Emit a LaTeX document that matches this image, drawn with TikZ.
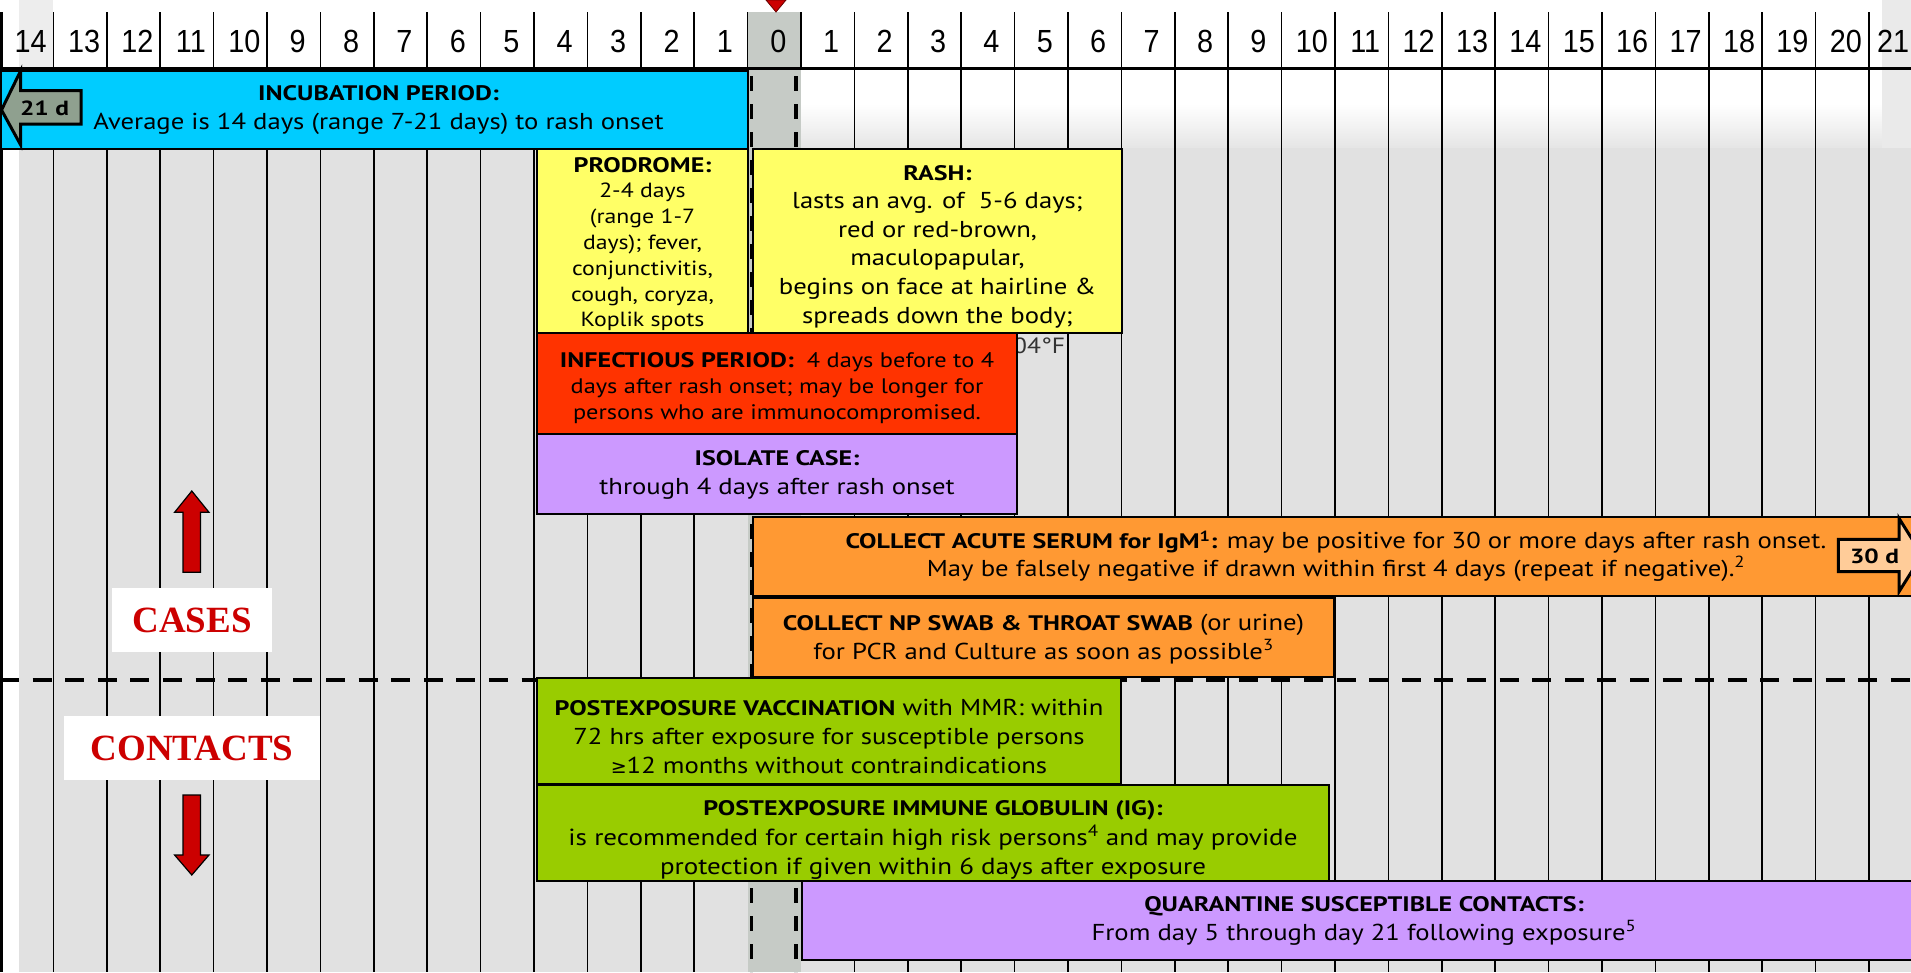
\documentclass[tikz,border=0pt]{standalone}
\usepackage{fontspec}
\setmainfont{PT Sans}[FakeStretch=1.16]
\newfontfamily\hdfont{PT Sans}[FakeStretch=1.24]
\newfontfamily\numfont{Liberation Sans}[FakeStretch=0.9]
\newfontfamily\capfont{Liberation Serif}
\newfontfamily\symfont{DejaVu Sans}
\newcommand\hdr[1]{{\hdfont\bfseries\fontsize{21}{28}\selectfont #1}}
\definecolor{cyanbox}{HTML}{00CCFF}
\definecolor{yel}{HTML}{FFFF66}
\definecolor{redbox}{HTML}{FF3300}
\definecolor{purp}{HTML}{CC99FF}
\definecolor{orng}{HTML}{FF9933}
\definecolor{grn}{HTML}{99CC00}
\definecolor{bggray}{HTML}{E1E1E1}
\definecolor{colgray}{HTML}{C6CBC6}
\definecolor{arrgray}{HTML}{8FA08F}
\definecolor{peach}{HTML}{FFCC99}
\definecolor{darkred}{HTML}{CC0000}
\tikzset{
  box/.style={draw=black, line width=2pt, inner sep=0pt, anchor=north west},
  wh/.style 2 args={minimum width=#1, minimum height=#2},
  txt/.style={inner sep=0pt, align=center, font=\fontsize{23}{29}\selectfont},
  gridline/.style={line width=1.7pt, black},
  coldash/.style={line width=3.4pt, black, dash pattern=on 14.7pt off 13.3pt},
  num/.style={font=\numfont\fontsize{32}{32}\selectfont, inner sep=0pt},
  lbl/.style={fill=white, inner sep=0pt, font=\capfont\bfseries\fontsize{37}{37}\selectfont, text=darkred},
  blockarrow/.style={draw=black, line width=3pt, line join=miter},
  redarrow/.style={fill=darkred, draw=black, line width=1.2pt},
  dtxt/.style={inner sep=0pt, font=\hdfont\bfseries\fontsize{20.5}{20.5}\selectfont},
}
\begin{document}
\begin{tikzpicture}[x=1pt,y=-1pt]
\useasboundingbox (0,0) rectangle (1911,972);
% backgrounds
\fill[white] (0,0) rectangle (1911,972);
\shade[top color=white, bottom color=bggray!85] (801,104) rectangle (1911,147.5);
\fill[bggray] (18.6,147.5) rectangle (1911,972);
\fill[bggray!70] (1882,0) rectangle (1911,147.5);
\fill[bggray!60] (19,0) rectangle (53.4,68);
\fill[colgray] (747.6,12) rectangle (801,972);
% grid
\foreach \k in {1,...,13,16,17,...,35} {
  \draw[gridline] ({\k*53.4},12) -- ({\k*53.4},972);
}
\draw[gridline] (747.6,12) -- (747.6,68.5);
\draw[gridline] (801,12) -- (801,68.5);
\draw[coldash, dash phase=-6pt] (751.7,70) -- (751.7,972);
\draw[coldash, dash phase=-6pt] (796,70) -- (796,972);
\draw[line width=2.6pt] (0,68.3) -- (1911,68.3);
\draw[line width=3.4pt] (1.5,12) -- (1.5,972);
% header numbers
\foreach \i in {0,...,13} {
  \pgfmathtruncatemacro\lab{14-\i}
  \node[num] (L\lab) at ({(\i+0.5)*53.4+4},41.3) {\lab};
}
\node[num] (D0) at ({14.5*53.4+4},41.3) {0};
\foreach \d in {1,...,20} {
  \node[num] (R\d) at ({(14.5+\d)*53.4+3.5},41.3) {\d};
}
\node[num] (R21) at (1893,41.3) {21};
\fill[darkred, draw=black!60!red, line width=0.8pt] (766,0) -- (786,0) -- (776,12) -- cycle;
% dashed separator
\draw[line width=4.5pt, dash pattern=on 19pt off 13.6pt] (0,680) -- (1911,680);
% hidden fever remnant
\node[anchor=west, inner sep=0pt, text=black!80, font=\fontsize{22}{22}\selectfont] (fev) at (1013,346) {04°F};
% boxes
\node[box, fill=cyanbox, wh={747pt}{78pt}] (inc) at (0,69.5) {};
\node[txt] (incT) at ([xshift=4pt, yshift=-1pt]inc.center)
  {\hdr{INCUBATION PERIOD:}\\Average is 14 days (range 7-21 days) to rash onset};
\node[box, fill=yel, wh={211pt}{184pt}] (prod) at (536,147.5) {};
\node[txt, font=\fontsize{20.5}{25.8}\selectfont] (prodT) at ([yshift=-3.5pt]prod.center)
  {\hdr{PRODROME:}\\2-4 days\\(range 1-7\\days); fever,\\conjunctivitis,\\cough, coryza,\\Koplik spots};
\node[box, fill=yel, wh={369pt}{184pt}] (rash) at (752,147.5) {};
\node[txt, font=\fontsize{23}{28.6}\selectfont] (rashT) at ([yshift=-6pt]rash.center)
  {\hdr{RASH:}\\lasts an avg. of\ \ 5-6 days;\\red or red-brown,\\maculopapular,\\begins on face at hairline \&\\spreads down the body;};
\node[box, fill=redbox, wh={480pt}{100.5pt}] (inf) at (536,332) {};
\node[txt, font=\fontsize{21}{26.3}\selectfont] (infT) at ([yshift=-5pt]inf.center)
  {\hdr{INFECTIOUS PERIOD:}\ \ 4 days before to 4\\days after rash onset; may be longer for\\persons who are immunocompromised.};
\node[box, fill=purp, wh={480pt}{80.5pt}] (iso) at (536,432.5) {};
\node[txt] (isoT) at ([yshift=-1pt]iso.center)
  {\hdr{ISOLATE CASE:}\\through 4 days after rash onset};
\node[box, fill=orng, wh={1170pt}{79.5pt}] (igm) at (752,515.5) {};
\node[txt, font=\fontsize{23}{28}\selectfont] (igmT) at ([xshift=-2pt]igm.center)
  {\hdr{COLLECT ACUTE SERUM for IgM\textsuperscript{1}:} may be positive for 30 or more days after rash onset.\\May be falsely negative if drawn within first 4 days (repeat if negative).\textsuperscript{2}};
\node[box, fill=orng, wh={581pt}{79pt}] (np) at (752,597) {};
\node[txt] (npT) at ([yshift=-2pt]np.center)
  {\hdr{COLLECT NP SWAB \& THROAT SWAB} (or urine)\\for PCR and Culture as soon as possible\textsuperscript{3}};
\node[box, fill=grn, wh={584pt}{106pt}] (vac) at (536,677) {};
\node[txt] (vacT) at ([yshift=-5pt]vac.center)
  {\hdr{POSTEXPOSURE VACCINATION} with MMR: within\\72 hrs after exposure for susceptible persons\\{\symfont\fontsize{19}{19}\selectfont ≥}12 months without contraindications};
\node[box, fill=grn, wh={792pt}{96pt}] (ig) at (536,784) {};
\node[txt, font=\fontsize{23.3}{29.5}\selectfont] (igT) at ([yshift=-7pt]ig.center)
  {\hdr{POSTEXPOSURE IMMUNE GLOBULIN (IG):}\\is recommended for certain high risk persons\textsuperscript{4} and may provide\\protection if given within 6 days after exposure};
\node[box, fill=purp, wh={1120pt}{79pt}] (quar) at (801,880) {};
\node[txt] (quarT) at ([xshift=2pt]quar.center)
  {\hdr{QUARANTINE SUSCEPTIBLE CONTACTS:}\\From day 5 through day 21 following exposure\textsuperscript{5}};
% block arrows
\filldraw[blockarrow, fill=arrgray] (1.5,110) -- (20.7,70.7) -- (20.7,90.7) -- (81,90.7) -- (81,124) -- (20.7,124) -- (20.7,145) -- cycle;
\node[dtxt] (d21) at (44.5,108.3) {21 d};
\filldraw[blockarrow, fill=peach] (1838.3,539.3) -- (1899,539.3) -- (1899,518.3) -- (1922,555) -- (1899,591.7) -- (1899,571.7) -- (1838.3,571.7) -- cycle;
\node[dtxt] (d30) at (1874.5,556.5) {30 d};
% cases / contacts
\draw[redarrow] (191.8,491) -- (209,512.3) -- (200.4,512.3) -- (200.4,572.3) -- (183,572.3) -- (183,512.3) -- (174.6,512.3) -- cycle;
\node[lbl, minimum width=160pt, minimum height=64pt] (cases) at (192,620) {CASES};
\node[lbl, minimum width=256pt, minimum height=64pt] (contacts) at (192,748) {CONTACTS};
\draw[redarrow] (183,795) -- (200.4,795) -- (200.4,855) -- (209,855) -- (191.8,875) -- (174.6,855) -- (183,855) -- cycle;
\end{tikzpicture}
\end{document}
